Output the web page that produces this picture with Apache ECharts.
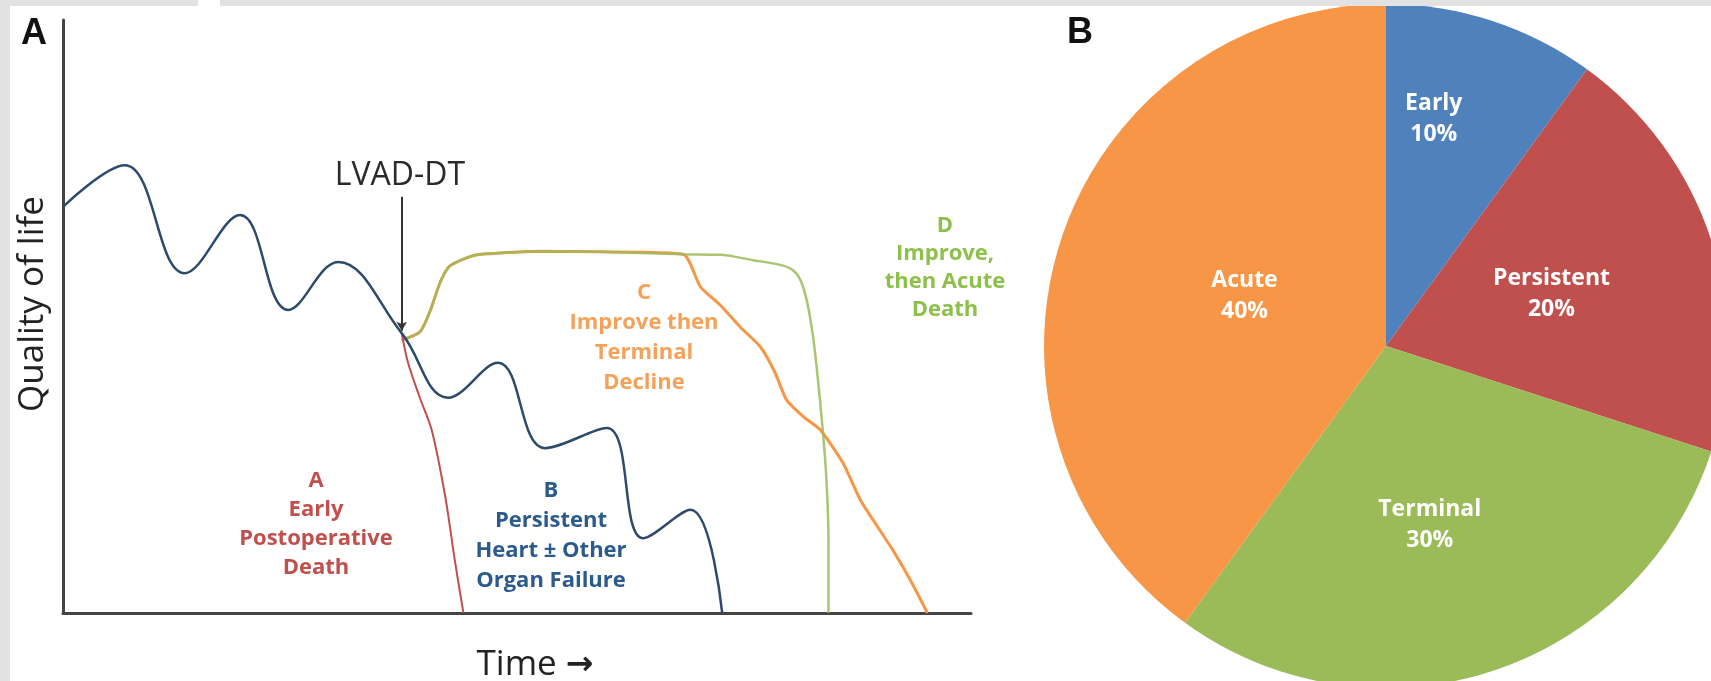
<!DOCTYPE html>
<html>
<head>
<meta charset="utf-8">
<script src="https://cdn.jsdelivr.net/npm/echarts@6/dist/echarts.min.js"></script>
<style>
  html, body { margin: 0; padding: 0; background: #fff; }
  #chart { width: 1711px; height: 681px; }
</style>
</head>
<body>
<div id="chart"></div>
<script>
// Panel A: quality of life over time, both axes on a 0-100 scale
const persistentPath = [
  [0, 68.5], [6.8, 75.5], [13.4, 57.3], [19.5, 67.1], [24.8, 51.1], [30.3, 59.2],
  [37.3, 47.2], [42.4, 36.3], [47.9, 42.2], [53.1, 27.8], [59.9, 31.2], [63.9, 12.6],
  [69.1, 17.4], [72.6, 0]
];
const earlyPath = [
  [37.3, 47.2], [38.0, 42.2], [39.3, 36.3], [40.6, 30.9], [42.1, 19.6], [43.2, 8.4], [44.1, 0]
];
// shared rise and plateau of C and D
const improvePath = [
  [37.3, 46.0], [39.3, 47.4], [40.4, 50.8], [41.5, 55.6], [42.4, 58.2],
  [43.4, 59.2], [45.6, 60.4], [48.1, 60.7], [52.5, 61.0], [59.1, 60.9], [68.3, 60.5]
];
const terminalTail = [
  [70.2, 55.0], [72.4, 51.9], [74.6, 48.2], [76.8, 44.9], [78.4, 40.6], [79.7, 35.9],
  [81.7, 32.9], [83.4, 30.9], [85.9, 25.3], [87.8, 19.1], [89.6, 14.8], [91.4, 10.6],
  [93.3, 5.6], [95.2, 0]
];
const acuteTail = [
  [72.4, 60.4], [76.0, 59.5], [79.0, 58.7], [80.4, 57.8], [81.2, 56.2], [81.9, 52.8],
  [82.5, 47.7], [83.0, 41.5], [83.7, 30.4], [84.1, 21.9], [84.3, 12.3], [84.3, 0]
];
const lvadTime = 37.3;
const lvadArrow = [70.2, 47.6];

// Panel B: share of each mode of death
const modeNames = ['Early', 'Persistent', 'Terminal', 'Acute'];
const modeShares = [10, 20, 30, 40];
const modeColors = ['#4f81bd', '#c0504d', '#9bbb59', '#f79646'];
const modeLabelShift = [[-6, -62], [0, 2], [-10, 13], [24, 4]];

const chart = echarts.init(document.getElementById('chart'));

const noteFont = 'bold 22px "Open Sans", sans-serif';
function note(text, x, y, color, lh) {
  return {
    type: 'text', z: 20,
    style: { text: text, x: x, y: y, fill: color, font: noteFont, lineHeight: lh,
      align: 'center', verticalAlign: 'middle' }
  };
}

chart.setOption({
  animation: false,
  grid: { left: 63, top: 20, width: 908, height: 593, outerBoundsMode: 'none', containLabel: false },
  xAxis: {
    type: 'value', min: 0, max: 100,
    axisLine: { show: true, lineStyle: { color: '#444', width: 3 } },
    axisTick: { show: false }, axisLabel: { show: false }, splitLine: { show: false }
  },
  yAxis: {
    type: 'value', min: 0, max: 100,
    axisLine: { show: true, lineStyle: { color: '#444', width: 3 } },
    axisTick: { show: false }, axisLabel: { show: false }, splitLine: { show: false }
  },
  series: [
    {
      name: 'C', type: 'line', data: improvePath.concat(terminalTail), smooth: 0.2,
      showSymbol: false, lineStyle: { color: '#f79646', width: 3 }
    },
    {
      name: 'D', type: 'line', data: improvePath.concat(acuteTail), smooth: 0.3,
      showSymbol: false, lineStyle: { color: '#9bbb59', width: 2.5, opacity: 0.85 }
    },
    {
      name: 'A', type: 'line', data: earlyPath, smooth: 0.3,
      showSymbol: false, lineStyle: { color: '#c0504d', width: 2 }
    },
    {
      name: 'B', type: 'line', data: persistentPath, smooth: 0.4,
      showSymbol: false, lineStyle: { color: '#2d4a6b', width: 2.5 },
      markLine: {
        silent: true, symbol: ['none', 'arrow'], symbolSize: [8, 9],
        lineStyle: { color: '#333', width: 2, type: 'solid' },
        label: { show: false },
        data: [[{ coord: [lvadTime, lvadArrow[0]] }, { coord: [lvadTime, lvadArrow[1]] }]]
      }
    },
    {
      type: 'pie', center: [1386, 346], radius: 342,
      startAngle: 90, clockwise: true, silent: true,
      label: {
        position: 'inside', formatter: '{b}\n{d}%', color: '#fff',
        fontFamily: 'Open Sans', fontSize: 23, fontWeight: 'bold', lineHeight: 31
      },
      labelLine: { show: false },
      data: modeNames.map((n, i) => ({
        name: n, value: modeShares[i],
        itemStyle: { color: modeColors[i] },
        label: { offset: modeLabelShift[i] }
      }))
    }
  ],
  graphic: [
    { type: 'rect', z: 30, shape: { x: 0, y: 0, width: 198, height: 6 }, style: { fill: '#e2e2e2' } },
    { type: 'rect', z: 30, shape: { x: 220, y: 0, width: 1491, height: 6 }, style: { fill: '#e2e2e2' } },
    { type: 'rect', z: 30, shape: { x: 0, y: 0, width: 10, height: 681 }, style: { fill: '#e2e2e2' } },
    { type: 'text', z: 20, style: { text: 'A', x: 34, y: 34, font: 'bold 36px "Liberation Sans", Arial', fill: '#111', align: 'center', verticalAlign: 'middle' } },
    { type: 'text', z: 20, style: { text: 'B', x: 1080, y: 33, font: 'bold 36px "Liberation Sans", Arial', fill: '#111', align: 'center', verticalAlign: 'middle' } },
    { type: 'text', z: 20, style: { text: 'LVAD-DT', x: 400, y: 176, font: '32px "Open Sans", sans-serif', fill: '#2a2a2a', align: 'center', verticalAlign: 'middle' } },
    { type: 'text', z: 20, x: 33, y: 304, rotation: Math.PI / 2,
      style: { text: 'Quality of life', x: 0, y: 0, font: '35px "Open Sans", sans-serif', fill: '#222', align: 'center', verticalAlign: 'middle' } },
    { type: 'text', z: 20,
      style: {
        text: '{t|Time\u00a0}{a|\u2192}', x: 535, y: 665, align: 'center', verticalAlign: 'middle',
        rich: {
          t: { fontFamily: 'Open Sans', fontSize: 35, fill: '#222' },
          a: { fontFamily: 'DejaVu Sans', fontSize: 33, fontWeight: 'bold', fill: '#222' }
        }
      } },
    note('A\nEarly\nPostoperative\nDeath', 316, 524, '#c0504d', 29),
    note('B\nPersistent\nHeart \u00b1 Other\nOrgan Failure', 551, 536, '#2b5a8c', 30),
    note('C\nImprove then\nTerminal\nDecline', 644, 338, '#f4a25a', 30),
    note('D\nImprove,\nthen Acute\nDeath', 945, 268, '#8dc04b', 28)
  ]
});
</script>
</body>
</html>
